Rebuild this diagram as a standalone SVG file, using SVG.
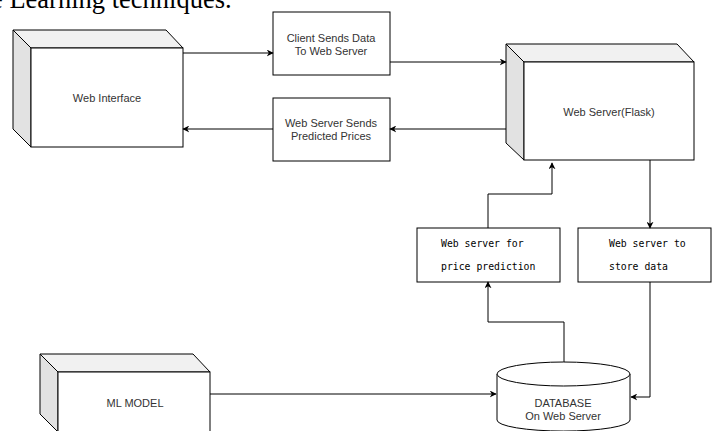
<svg xmlns="http://www.w3.org/2000/svg" width="712" height="431" viewBox="0 0 712 431">
<defs>
<style>
.top{fill:#f1f1f1;stroke:#000;stroke-width:1}
.side{fill:#e2e2e2;stroke:#000;stroke-width:1}
.face{fill:#fff;stroke:#000;stroke-width:1}
.lbl{font-family:"Liberation Sans",Arial,sans-serif;font-size:11px;fill:#333;text-anchor:middle}
.mono{font-family:"DejaVu Sans Mono","Liberation Mono",monospace;font-size:9.8px;fill:#000}
.edge{fill:none;stroke:#000;stroke-width:1}
</style>
<marker id="ah" viewBox="0 0 10 10" refX="9" refY="5" markerWidth="7" markerHeight="7" orient="auto" markerUnits="userSpaceOnUse">
<path d="M0,0 L10,5 L0,10 L3,5 Z" fill="#000"/>
</marker>
</defs>
<rect width="712" height="431" fill="#fff"/>
<text x="-9" y="8" font-family="'Liberation Serif','Times New Roman',serif" font-size="26.5" fill="#000">e Learning techniques.</text>

<g id="web-interface">
<polygon class="top" points="13,30 166,30 183,48 31,48"/>
<polygon class="side" points="13,30 31,48 31,147 13,129"/>
<rect class="face" x="31" y="48" width="152" height="99"/>
<text class="lbl" x="107" y="102">Web Interface</text>
</g>

<g id="client-sends">
<rect class="face" x="273" y="12" width="117" height="63"/>
<text class="lbl" x="331" y="42">Client Sends Data</text>
<text class="lbl" x="331" y="55">To Web Server</text>
</g>

<g id="server-sends">
<rect class="face" x="273" y="98" width="117" height="63"/>
<text class="lbl" x="331" y="127">Web Server Sends</text>
<text class="lbl" x="331" y="140">Predicted Prices</text>
</g>

<g id="web-server">
<polygon class="top" points="506,44 677,44 694,62 524,62"/>
<polygon class="side" points="506,44 524,62 524,160 506,143"/>
<rect class="face" x="524" y="62" width="170" height="98"/>
<text class="lbl" x="609" y="116">Web Server(Flask)</text>
</g>

<g id="price-prediction">
<rect class="face" x="417" y="228" width="143" height="54"/>
<text class="mono" x="441" y="247">Web server for</text>
<text class="mono" x="441" y="270">price prediction</text>
</g>

<g id="store-data">
<rect class="face" x="578" y="228" width="133" height="54"/>
<text class="mono" x="609" y="247">Web server to</text>
<text class="mono" x="609" y="270">store data</text>
</g>

<g id="ml-model">
<polygon class="top" points="40,354 193,354 210,372 58,372"/>
<polygon class="side" points="40,354 58,372 58,432 40,414"/>
<rect class="face" x="58" y="372" width="152" height="70"/>
<text class="lbl" x="135" y="407">ML MODEL</text>
</g>

<g id="database">
<path class="face" d="M497,374 L497,420 A66,11 0 0 0 630,420 L630,374"/>
<ellipse class="face" cx="563.5" cy="374" rx="66.5" ry="12"/>
<text class="lbl" x="563" y="407">DATABASE</text>
<text class="lbl" x="563" y="420">On Web Server</text>
</g>

<g id="connectors">
<path class="edge" d="M183,53 L273,53" marker-end="url(#ah)"/>
<path class="edge" d="M390,62 L506,62" marker-end="url(#ah)"/>
<path class="edge" d="M506,129 L390,129" marker-end="url(#ah)"/>
<path class="edge" d="M273,129 L183,129" marker-end="url(#ah)"/>
<path class="edge" d="M488,228 L488,194 L552,194 L552,163" marker-end="url(#ah)"/>
<path class="edge" d="M650,160 L650,228" marker-end="url(#ah)"/>
<path class="edge" d="M564,362 L564,322 L488,322 L488,282" marker-end="url(#ah)"/>
<path class="edge" d="M650,282 L650,397 L631,397" marker-end="url(#ah)"/>
<path class="edge" d="M210,394 L496,394" marker-end="url(#ah)"/>
</g>
</svg>
